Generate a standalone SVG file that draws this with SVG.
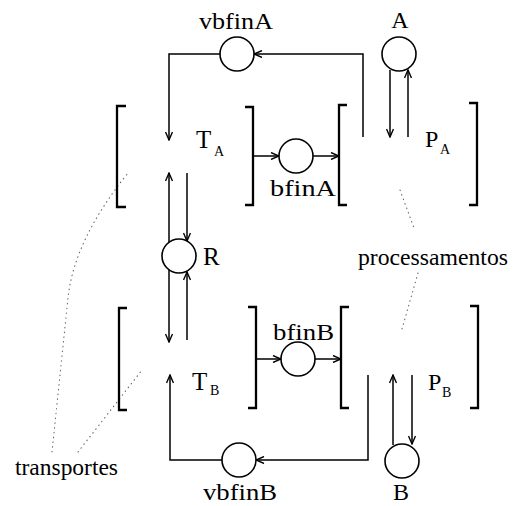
<svg xmlns="http://www.w3.org/2000/svg" width="520" height="506" viewBox="0 0 520 506">
<defs>
<style>
.ln{fill:none;stroke:#000;stroke-width:1.5}
.br{fill:none;stroke:#000;stroke-width:2.3}
.pl{fill:#fff;stroke:#000;stroke-width:1.6}
.dot{fill:none;stroke:#666;stroke-width:1.1;stroke-dasharray:0.6 4.2;stroke-linecap:round}
text{font-family:"Liberation Serif","Times New Roman",serif;fill:#000}
.lb{font-size:24px}
.big{font-size:25px}
.sub{font-size:14px}
</style>
<marker id="ah" markerWidth="10" markerHeight="8" refX="9" refY="4" orient="auto" markerUnits="userSpaceOnUse">
<path d="M1,0.5 L9,4 L1,7.5" fill="none" stroke="#000" stroke-width="1.4"/>
</marker>
</defs>
<rect width="520" height="506" fill="#fff"/>

<g id="connectors">
<path class="ln" d="M220,54 H169 V140" marker-end="url(#ah)"/>
<path class="ln" d="M363,137 V54 H254" marker-end="url(#ah)"/>
<path class="ln" d="M390,70 V137" marker-end="url(#ah)"/>
<path class="ln" d="M408,137 V70" marker-end="url(#ah)"/>
<path class="ln" d="M253,156 H279" marker-end="url(#ah)"/>
<path class="ln" d="M313,156 H339" marker-end="url(#ah)"/>
<path class="ln" d="M169,242 V173" marker-end="url(#ah)"/>
<path class="ln" d="M187,173 V241" marker-end="url(#ah)"/>
<path class="ln" d="M169,270 V342" marker-end="url(#ah)"/>
<path class="ln" d="M187,340 V272" marker-end="url(#ah)"/>
<path class="ln" d="M256,359 H281" marker-end="url(#ah)"/>
<path class="ln" d="M315,359 H341" marker-end="url(#ah)"/>
<path class="ln" d="M222,460 H170 V375" marker-end="url(#ah)"/>
<path class="ln" d="M368,375 V460 H256" marker-end="url(#ah)"/>
<path class="ln" d="M393,445 V375" marker-end="url(#ah)"/>
<path class="ln" d="M412,375 V444" marker-end="url(#ah)"/>
</g>

<g id="annotations">
<path class="dot" d="M52,452 L68,298 Q74,240 128,173"/>
<path class="dot" d="M78,452 L142,370"/>
<path class="dot" d="M400,190 L414,228"/>
<path class="dot" d="M418,273 L402,329"/>
<text x="15" y="475" class="lb" textLength="103" lengthAdjust="spacingAndGlyphs">transportes</text>
<text x="358" y="265" class="lb" textLength="150" lengthAdjust="spacingAndGlyphs">processamentos</text>
</g>

<g id="TA">
<path class="br" d="M126,106 H117 V207 H126"/>
<path class="br" d="M245,107 H253 V205 H245"/>
<text x="196" y="148" class="big">T</text>
<text x="214" y="156" class="sub">A</text>
</g>
<g id="PA">
<path class="br" d="M347,105 H339 V205 H347"/>
<path class="br" d="M469,103 H477 V205 H469"/>
<text x="425" y="147" class="lb">P</text>
<text x="440" y="154" class="sub">A</text>
</g>
<g id="TB">
<path class="br" d="M127,308 H119 V410 H127"/>
<path class="br" d="M248,307 H256 V408 H248"/>
<text x="192" y="390" class="big">T</text>
<text x="210" y="395" class="sub">B</text>
</g>
<g id="PB">
<path class="br" d="M349,307 H341 V408 H349"/>
<path class="br" d="M470,306 H478 V408 H470"/>
<text x="428" y="390" class="lb">P</text>
<text x="442" y="397" class="sub">B</text>
</g>

<g id="vbfinA">
<circle class="pl" cx="237" cy="54" r="17"/>
<text x="199" y="29" class="lb" textLength="74" lengthAdjust="spacingAndGlyphs">vbfinA</text>
</g>
<g id="A">
<circle class="pl" cx="399" cy="54" r="17"/>
<text x="400" y="28" class="lb" text-anchor="middle">A</text>
</g>
<g id="bfinA">
<circle class="pl" cx="296" cy="156" r="17"/>
<text x="270" y="196" class="lb" textLength="66" lengthAdjust="spacingAndGlyphs">bfinA</text>
</g>
<g id="R">
<circle class="pl" cx="179" cy="256" r="17"/>
<text x="203" y="265" class="big">R</text>
</g>
<g id="bfinB">
<circle class="pl" cx="298" cy="359" r="17"/>
<text x="273" y="340" class="lb" textLength="61" lengthAdjust="spacingAndGlyphs">bfinB</text>
</g>
<g id="vbfinB">
<circle class="pl" cx="239" cy="460" r="17"/>
<text x="203" y="500" class="lb" textLength="74" lengthAdjust="spacingAndGlyphs">vbfinB</text>
</g>
<g id="B">
<circle class="pl" cx="402" cy="461" r="17"/>
<text x="401" y="500" class="lb" text-anchor="middle">B</text>
</g>
</svg>
